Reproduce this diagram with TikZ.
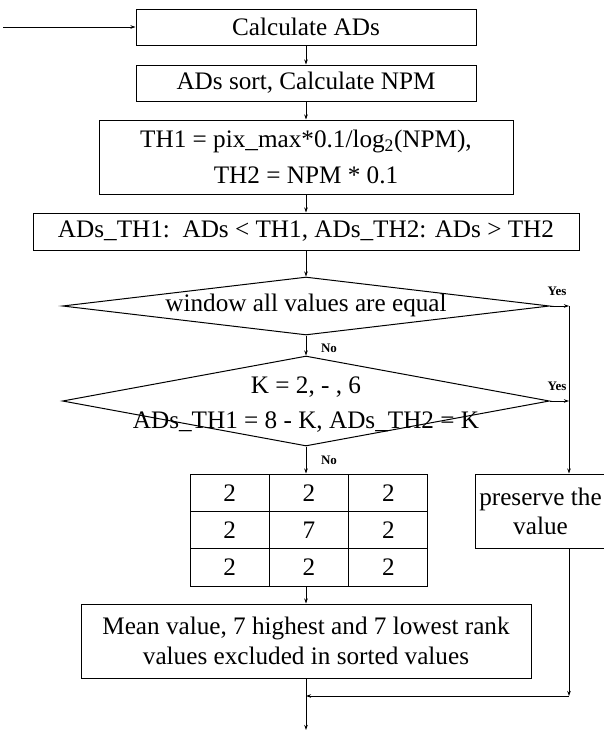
\documentclass[tikz,border=0pt]{standalone}
\usepackage{fontspec}
\setmainfont{Liberation Serif}
\usetikzlibrary{shapes.geometric,arrows.meta}
\begin{document}
\begin{tikzpicture}[x=1pt,y=-1pt,
  every node/.style={font=\fontsize{25.2}{29}\selectfont, inner sep=0pt},
  box/.style={draw, line width=1pt, align=center},
  decision/.style={draw, diamond, line width=1pt},
  cell/.style={draw, line width=1pt, minimum width=79.33pt, minimum height=37.33pt},
  lab/.style={font=\fontsize{13}{15}\selectfont\bfseries},
  conn/.style={line width=1pt, -{Stealth[length=5pt,width=3.5pt]}},
  plain/.style={line width=1pt}]
\useasboundingbox (0,0) rectangle (604,731);
\fill[white] (0,0) rectangle (604,731);

\node[box, minimum width=340pt, minimum height=36pt] (b1) at (306,27) {Calculate ADs};
\node[box, minimum width=340pt, minimum height=36pt] (b2) at (306,83) {ADs sort, Calculate NPM};
\node[box, minimum width=414pt, minimum height=74pt] (b3) at (306,157) {TH1 = pix\_max*0.1/log\textsubscript{2}(NPM),\\[7pt] TH2 = NPM * 0.1};
\node[box, minimum width=546pt, minimum height=37pt] (b4) at (306,231.5) {ADs\_TH1:\ \ ADs < TH1, ADs\_TH2: ADs > TH2};

\node[decision, minimum width=487pt, minimum height=58pt] (d1) at (306,306) {};
\node (d1t) at (306,305) {window all values are equal};
\node[decision, minimum width=487pt, minimum height=90pt] (d2) at (306,401) {};
\node[align=center] (d2t) at (306,405) {K = 2, - , 6\\[6pt]ADs\_TH1 = 8 - K, ADs\_TH2 = K};

\node[cell] (t11) at (229.67,492.67) {2};
\node[cell] (t12) at (309,492.67) {2};
\node[cell] (t13) at (388.33,492.67) {2};
\node[cell] (t21) at (229.67,530) {2};
\node[cell] (t22) at (309,530) {7};
\node[cell] (t23) at (388.33,530) {2};
\node[cell] (t31) at (229.67,567.33) {2};
\node[cell] (t32) at (309,567.33) {2};
\node[cell] (t33) at (388.33,567.33) {2};

\node[box, minimum width=131pt, minimum height=74pt] (pres) at (540.5,511) {preserve the\\value};
\node[box, minimum width=450pt, minimum height=74pt] (mean) at (306,641) {Mean value, 7 highest and 7 lowest rank\\[1pt]values excluded in sorted values};

\node[lab] (y1) at (557,291) {Yes};
\node[lab] (y2) at (557,386) {Yes};
\node[lab] (n1) at (329,348) {No};
\node[lab] (n2) at (329,460) {No};

\coordinate (in) at (3,27);
\coordinate (r1) at (569,306);
\coordinate (r2) at (569,401);
\coordinate (m) at (306,696);
\coordinate (out) at (306,730);

\draw[conn] (in) -- (b1.west);
\draw[conn] (b1.south) -- (b2.north);
\draw[conn] (b2.south) -- (b3.north);
\draw[conn] (b3.south) -- (b4.north);
\draw[conn] (b4.south) -- (d1.north);
\draw[conn] (d1.south) -- (d2.north);
\draw[conn] (d2.south) -- (d2.south |- t12.north);
\draw[conn] (d1.east) -- (r1);
\draw[conn] (d2.east) -- (r2);
\draw[conn] (r1) -- (r1 |- pres.north);
\draw[conn] (mean.north |- t32.south) -- (mean.north);
\draw[conn] (r1 |- pres.south) -- (r1 |- m);
\draw[conn] (r1 |- m) -- (m);
\draw[conn] (mean.south) -- (out);
\end{tikzpicture}
\end{document}
